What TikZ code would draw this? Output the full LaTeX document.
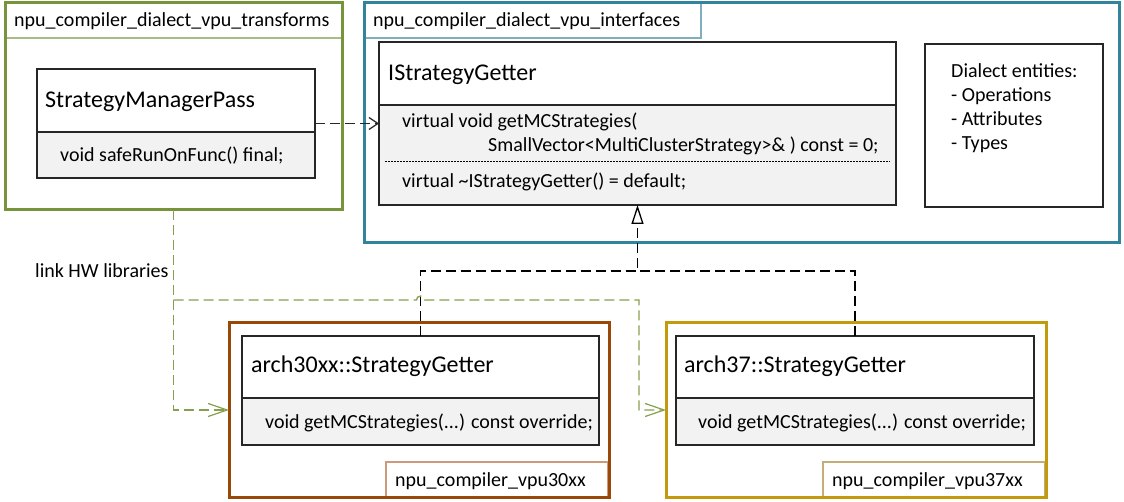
\documentclass[tikz,border=0pt]{standalone}
\usepackage{fontspec}
\setmainfont{Carlito}
\usetikzlibrary{arrows.meta,calc}
\definecolor{pgreen}{HTML}{77933C}
\definecolor{pgreenl}{HTML}{A9BC86}
\definecolor{lgreen}{HTML}{86A04C}
\definecolor{pblue}{HTML}{31849B}
\definecolor{pbluel}{HTML}{7FAFBF}
\definecolor{pbrown}{HTML}{984807}
\definecolor{pbrownl}{HTML}{CC9A78}
\definecolor{pgold}{HTML}{C39A0C}
\definecolor{pgoldl}{HTML}{C2AE78}
\definecolor{bodyfill}{HTML}{F2F2F2}
\tikzset{
  pkg/.style={draw, line width=3pt, inner sep=0pt, outer sep=0pt, anchor=north west},
  tabbox/.style={draw, line width=1.5pt, fill=white, inner sep=0pt, outer sep=0pt, anchor=north west},
  hdr/.style={draw=black!85, line width=1.3pt, fill=white, inner sep=0pt, outer sep=0pt, anchor=north west},
  bdy/.style={hdr, fill=bodyfill},
  txt/.style={anchor=base west, inner sep=0pt, font=\fontsize{20}{24}\selectfont},
  big/.style={anchor=base west, inner sep=0pt, font=\fontsize{24}{28}\selectfont},
  dep/.style={draw=black!85, line width=1.5pt, dash pattern=on 10pt off 5pt, -{Straight Barb[length=9pt,width=12pt,line width=1.2pt]}},
  inh/.style={draw=black, line width=1.5pt, dash pattern=on 10pt off 5pt},
  inharrow/.style={inh, -{Triangle[open, length=19pt, width=12pt, line width=1.3pt]}},
  link/.style={draw=lgreen, line width=1.3pt, dash pattern=on 10pt off 5pt},
  linkarrow/.style={link, -{Straight Barb[length=19pt,width=13pt,line width=1.2pt]}},
}
\begin{document}
\begin{tikzpicture}[x=1pt,y=-1pt]
\useasboundingbox (0,0) rectangle (1124,502);
\fill[white] (0,0) rectangle (1124,502);

% transforms package
\node[tabbox, draw=pgreenl, minimum width=337pt, minimum height=35pt] (tabT) at (5,3) {};
\node[pkg, draw=pgreen, minimum width=337pt, minimum height=207pt] (pkgT) at (5,3) {};
\node[txt] (tT) at (14,27) {npu\_compiler\_dialect\_vpu\_transforms};
\node[hdr, minimum width=278pt, minimum height=63pt] (smpH) at (37,69) {};
\node[bdy, minimum width=278pt, minimum height=46pt] (smpB) at (37,132) {};
\node[big] (smpN) at (45,108) {StrategyManagerPass};
\node[txt] (smpM) at (60,162) {void safeRunOnFunc() final;};

% interfaces package
\node[tabbox, draw=pbluel, minimum width=337pt, minimum height=35pt] (tabI) at (364,3) {};
\node[pkg, draw=pblue, minimum width=755pt, minimum height=240pt] (pkgI) at (364,3) {};
\node[txt] (tI) at (373,27) {npu\_compiler\_dialect\_vpu\_interfaces};
\node[hdr, minimum width=517pt, minimum height=63pt] (isgH) at (379,42) {};
\node[bdy, minimum width=517pt, minimum height=100pt] (isgB) at (379,105) {};
\node[big] (isgN) at (388,81) {IStrategyGetter};
\node[txt] (isgM1) at (402,128) {virtual void getMCStrategies(};
\node[txt] (isgM2) at (488,152) {SmallVector<MultiClusterStrategy>\& ) const = 0;};
\node[txt] (isgM3) at (402,188) {virtual \textasciitilde IStrategyGetter() = default;};
\draw[black, line width=1pt, dash pattern=on 1.5pt off 1.5pt]
  ($(isgB.north west)+(6,57)$) -- ($(isgB.north east)+(-6,57)$);
\node[hdr, minimum width=178pt, minimum height=163pt] (dia) at (925,44) {};
\node[txt, align=left, anchor=north west] (diaT) at (951,63.5)
  {Dialect entities:\\- Operations\\- Attributes\\- Types};

% vpu30xx package
\node[tabbox, draw=pbrownl, minimum width=222pt, minimum height=35pt] (tab30) at (386,462) {};
\node[pkg, draw=pbrown, minimum width=380pt, minimum height=174pt] (pkg30) at (229,323) {};
\node[txt] (t30) at (395,486) {npu\_compiler\_vpu30xx};
\node[hdr, minimum width=357pt, minimum height=62pt] (a30H) at (242,336) {};
\node[bdy, minimum width=357pt, minimum height=47pt] (a30B) at (242,398) {};
\node[big] (a30N) at (251,373) {arch30xx::StrategyGetter};
\node[txt] (a30M) at (265,428) {void getMCStrategies(...) const override;};

% vpu37xx package
\node[tabbox, draw=pgoldl, minimum width=222pt, minimum height=35pt] (tab37) at (823,462) {};
\node[pkg, draw=pgold, minimum width=380pt, minimum height=174pt] (pkg37) at (666,323) {};
\node[txt] (t37) at (832,486) {npu\_compiler\_vpu37xx};
\node[hdr, minimum width=358pt, minimum height=62pt] (a37H) at (676,336) {};
\node[bdy, minimum width=358pt, minimum height=47pt] (a37B) at (676,398) {};
\node[big] (a37N) at (684,373) {arch37::StrategyGetter};
\node[txt] (a37M) at (698,428) {void getMCStrategies(...) const override;};

% dependency
\draw[dep] ($(smpH.north east)!0.5!(smpB.south east)$) -- ($(isgH.north west)!0.5!(isgB.south west)$);

% inheritance
\coordinate (junc) at (isgB.south |- 0,271);
\draw[inharrow] (a30H.north) |- (junc) -- (isgB.south);
\draw[inh] (a37H.north) |- (junc);

% link HW libraries
\coordinate (gsplit) at (pkgT.south |- 0,300);
\coordinate (gturn) at (639,300);
\draw[linkarrow] (pkgT.south) -- (gsplit) |- (pkg30.west);
\draw[linkarrow] (gsplit) -- ($(a30H.north |- gsplit)+(-4,0)$) arc (180:360:4) -- (gturn) |- (pkg37.west);
\node[txt] (lbl) at (35,278) {link HW libraries};
\end{tikzpicture}
\end{document}
